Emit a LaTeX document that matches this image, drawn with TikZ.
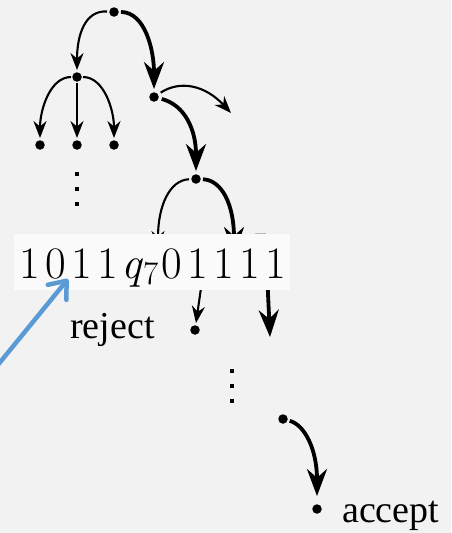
\documentclass[tikz,border=0pt]{standalone}
\usepackage{fontspec}
\setmainfont{Latin Modern Roman}
\newfontfamily\labfont{Liberation Serif}
\newfontfamily\cfgfont[LetterSpace=12]{Latin Modern Roman}
\usetikzlibrary{arrows.meta}
\definecolor{bg}{HTML}{F2F2F2}
\definecolor{boxc}{HTML}{FAFAFA}
\definecolor{blu}{HTML}{5B9BD5}
\newcommand{\qsub}{\kern0.08em{\itshape q}\kern0.03em\raisebox{-0.15em}{\fontsize{33}{33}\selectfont 7}\kern0.06em}
\begin{document}
\begin{tikzpicture}[x=1pt,y=-1pt,
  dot/.style={circle,fill=black,inner sep=0pt,minimum size=9.5pt},
  sdot/.style={rectangle,fill=black,inner sep=0pt,minimum size=4.5pt},
  thinarr/.style={line width=2.1pt,-{Stealth[length=17pt,width=13pt]}},
  boldarr/.style={line width=3.8pt,-{Stealth[length=27pt,width=20pt]}},
  lab/.style={font=\labfont\fontsize{38}{40}\selectfont, inner sep=0pt, anchor=base west}]
\fill[bg] (0,0) rectangle (451,533);
\useasboundingbox (0,0) rectangle (451,533);

% nodes
\node[dot] (A) at (114,12) {};
\node[dot] (B) at (77,77) {};
\node[dot] (C) at (154,97) {};
\node[dot] (B1) at (40,145) {};
\node[dot] (B2) at (77,145) {};
\node[dot] (B3) at (114,145) {};
\node[sdot] (v1) at (77,174) {};
\node[sdot] (v2) at (77,189) {};
\node[sdot] (v3) at (77,204) {};
\node[dot] (D) at (196,179) {};
\coordinate (Cout) at (231,113);
\coordinate (Dl) at (158,248);
\coordinate (Dr) at (234,254);
\node[dot] (E) at (195,330) {};
\coordinate (Ein) at (203,274);
\coordinate (Rin) at (267,272);
\coordinate (Rout) at (270,337);
\node[sdot] (w1) at (232,371) {};
\node[sdot] (w2) at (232,386) {};
\node[sdot] (w3) at (232,401) {};
\node[dot] (F) at (283,419) {};
\node[dot] (G) at (317,509) {};

% edges
\draw[thinarr, shorten <=2pt, shorten >=2pt] (A) .. controls (85,10) and (77,35) .. (B);
\draw[boldarr, shorten <=2pt, shorten >=3pt] (A) .. controls (145,12) and (154,50) .. (C);
\draw[thinarr, shorten <=1pt, shorten >=2pt] (B) .. controls (50,77) and (40,110) .. (B1);
\draw[thinarr, shorten <=1pt, shorten >=2pt] (B) -- (B2);
\draw[thinarr, shorten <=1pt, shorten >=2pt] (B) .. controls (104,77) and (114,110) .. (B3);
\draw[thinarr, shorten <=3pt] (C) .. controls (180,80) and (205,85) .. (Cout);
\draw[boldarr, shorten <=3pt, shorten >=3pt] (C) .. controls (185,105) and (196,130) .. (D);
\draw[thinarr, shorten <=2pt] (D) .. controls (170,180) and (158,205) .. (Dl);
\draw[boldarr, shorten <=2pt] (D) .. controls (222,180) and (234,205) .. (Dr);
\draw[thinarr, shorten >=2pt] (Ein) -- (E);
\draw[boldarr] (Rin) -- (Rout);
\draw[boldarr, shorten <=2pt, shorten >=8pt] (F) .. controls (305,425) and (317,450) .. (G);

% configuration label
\node[fill=boxc, anchor=base west, inner xsep=5pt, inner ysep=0pt,
      text width=266pt, align=left,
      text height=44pt, text depth=12pt, font=\cfgfont\fontsize{45}{50}\selectfont]
  (cfg) at (14,278) {1011\qsub01111};
\draw[gray!55, line width=1.4pt] (255,233.5) -- (266,233.5);

% labels
\node[lab] (rej) at (70,338) {reject};
\node[lab] (acc) at (342,522) {accept};

% pointer
\coordinate (bstart) at (-3,366);
\coordinate (btip) at (68,279);
\draw[blu, line width=4.5pt, line cap=round, -{Straight Barb[length=15pt,width=24pt,round]}] (bstart) -- (btip);
\end{tikzpicture}
\end{document}
